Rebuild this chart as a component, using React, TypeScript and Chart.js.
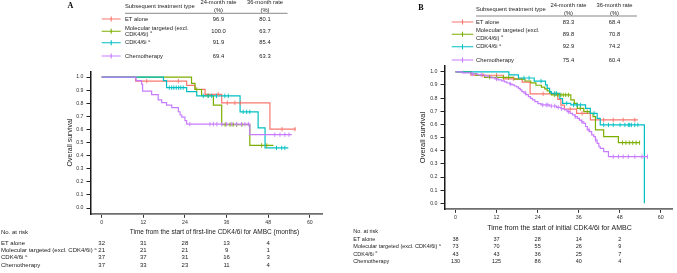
import React, { useEffect, useRef } from "react";
import { Chart, registerables } from "chart.js";

Chart.register(...registerables);

type Pt = [number, number];

// ---------- shared labels ----------
const GROUPS = ["ET alone", "Molecular targeted (excl. CDK4/6i)", "CDK4/6i", "Chemotherapy"];
const LEGEND_LABELS = [["ET alone"], ["Molecular targeted (excl.", "CDK4/6i)"], ["CDK4/6i"], ["Chemotherapy"]];
const SUPERSCRIPT = [false, true, true, false];
const COLORS = ["#F8766D", "#7CAE00", "#00BFC4", "#C77CFF"];
const X_TICKS = [0, 12, 24, 36, 48, 60];
const Y_TICKS = [0, 0.1, 0.2, 0.3, 0.4, 0.5, 0.6, 0.7, 0.8, 0.9, 1.0];
const RISK_TIMES = [0, 12, 24, 36, 48];
const HEADER_TYPE = "Subsequent treatment type";
const HEADER_24 = ["24-month rate", "(%)"];
const HEADER_36 = ["36-month rate", "(%)"];
const Y_TITLE = "Overall survival";
const RISK_TITLE = "No. at risk";

// ---------- Panel A data ----------
const A_ET: Pt[] = [[0, 1], [9.8, 0.969], [24.5, 0.937], [26.9, 0.906], [29.8, 0.868], [34.6, 0.803], [48.5, 0.602], [56.0, 0.602]];
const A_MOL: Pt[] = [[0, 1], [25.9, 0.952], [26.9, 0.905], [28.8, 0.857], [32.2, 0.786], [34.6, 0.637], [42.7, 0.478], [49.5, 0.478]];
const A_CDK: Pt[] = [[0, 1], [17.8, 0.973], [18.7, 0.919], [24.5, 0.889], [27.4, 0.856], [39.9, 0.734], [45.1, 0.612], [47.1, 0.459], [53.8, 0.459]];
const A_CHEMO: Pt[] = [[0, 1], [9.9, 0.973], [11.5, 0.946], [11.8, 0.892], [14.4, 0.865], [16.3, 0.826], [17.3, 0.805], [18.7, 0.786], [20.2, 0.767], [22.1, 0.735], [22.6, 0.71], [23.1, 0.694], [24.0, 0.667], [24.5, 0.64], [42.7, 0.56], [54.8, 0.56]];
const A_ET_CENS = [13.0, 22.1, 33.6, 36.2, 38.4, 40.0, 52.0, 55.7];
const A_MOL_CENS = [27.4, 30.7, 35.6, 37.0, 37.9, 38.9, 40.4, 46.1, 47.6];
const A_CDK_CENS = [19.5, 20.2, 20.8, 21.5, 22.2, 22.8, 23.5, 29.3, 30.7, 31.7, 33.1, 35.5, 36.5, 40.8, 41.8, 42.7, 50.4, 51.9, 52.8];
const A_CHEMO_CENS = [25.4, 31.2, 32.2, 33.2, 34.6, 36.0, 37.5, 38.9, 40.3, 41.3, 42.3, 49.9, 51.4, 52.8, 54.0];
const A_RATE_24 = ["96.9", "100.0", "91.9", "69.4"];
const A_RATE_36 = ["80.1", "63.7", "85.4", "63.3"];
const A_RISK_ET = [32, 31, 28, 13, 4];
const A_RISK_MOL = [21, 21, 21, 9, 1];
const A_RISK_CDK = [37, 37, 31, 16, 3];
const A_RISK_CHEMO = [37, 33, 23, 11, 4];
const A_X_TITLE = "Time from the start of first-line CDK4/6i for AMBC (months)";

// ---------- Panel B data ----------
const B_ET: Pt[] = [[0, 1], [4.5, 0.974], [14.0, 0.947], [19.5, 0.921], [21.8, 0.833], [29.9, 0.79], [30.8, 0.747], [31.8, 0.716], [35.4, 0.684], [39.4, 0.634], [53.3, 0.634]];
const B_MOL: Pt[] = [[0, 1], [4.5, 0.986], [6.0, 0.972], [8.5, 0.958], [17.0, 0.944], [20.3, 0.93], [22.0, 0.916], [23.5, 0.898], [25.1, 0.884], [26.1, 0.87], [26.8, 0.855], [27.5, 0.84], [28.0, 0.824], [33.7, 0.786], [34.7, 0.76], [35.6, 0.722], [37.5, 0.697], [39.4, 0.684], [40.2, 0.659], [40.9, 0.558], [43.3, 0.507], [47.6, 0.461], [53.8, 0.461]];
const B_CDK: Pt[] = [[0, 1], [15.6, 0.977], [18.4, 0.953], [23.0, 0.929], [26.3, 0.9], [26.8, 0.874], [27.5, 0.849], [28.0, 0.836], [30.5, 0.797], [31.3, 0.76], [33.7, 0.748], [38.0, 0.722], [39.4, 0.684], [41.4, 0.646], [42.3, 0.596], [55.2, 0]];
const B_CHEMO: Pt[] = [[0, 1], [2.0, 0.992], [4.5, 0.985], [6.5, 0.977], [8.5, 0.969], [9.5, 0.962], [10.5, 0.954], [11.5, 0.946], [12.5, 0.938], [13.5, 0.931], [14.3, 0.923], [15.0, 0.915], [15.8, 0.908], [16.5, 0.9], [17.2, 0.892], [17.8, 0.885], [18.4, 0.874], [18.9, 0.862], [19.4, 0.849], [20.0, 0.838], [20.6, 0.826], [21.3, 0.811], [21.9, 0.798], [22.5, 0.786], [23.2, 0.773], [24.1, 0.758], [25.0, 0.748], [27.5, 0.74], [29.5, 0.73], [30.8, 0.72], [31.8, 0.71], [32.6, 0.697], [33.5, 0.684], [34.2, 0.672], [34.9, 0.659], [35.6, 0.646], [36.2, 0.633], [36.8, 0.62], [37.5, 0.608], [38.0, 0.584], [38.5, 0.558], [39.2, 0.545], [39.8, 0.52], [40.4, 0.507], [40.9, 0.48], [41.4, 0.456], [41.9, 0.43], [42.3, 0.418], [43.3, 0.393], [44.7, 0.355], [56.1, 0.355]];
const B_ET_CENS = [8.0, 12.0, 17.0, 25.6, 28.9, 33.5, 37.0, 43.3, 46.1, 49.0, 52.4];
const B_MOL_CENS = [10.0, 12.0, 14.0, 15.5, 29.0, 29.9, 30.8, 31.5, 32.2, 33.0, 36.5, 38.5, 48.8, 49.8, 50.8, 51.8, 52.8, 53.8];
const B_CDK_CENS = [20.0, 21.5, 25.0, 29.0, 29.5, 32.5, 34.5, 35.5, 36.5, 40.5, 43.3, 44.7, 46.1, 48.1, 49.5, 50.5, 50.9, 51.4, 52.4, 53.3];
const B_CHEMO_CENS = [5.0, 7.5, 12.0, 16.0, 20.5, 25.5, 26.5, 27.0, 28.0, 29.0, 30.0, 31.0, 33.0, 35.0, 37.0, 39.0, 41.0, 46.1, 47.6, 49.0, 50.5, 52.4, 54.5, 56.1];
const B_RATE_24 = ["83.3", "89.8", "92.9", "75.4"];
const B_RATE_36 = ["68.4", "70.8", "74.2", "60.4"];
const B_RISK_ET = [38, 37, 28, 14, 2];
const B_RISK_MOL = [73, 70, 55, 26, 9];
const B_RISK_CDK = [43, 43, 36, 25, 7];
const B_RISK_CHEMO = [130, 125, 86, 40, 4];
const B_X_TITLE = "Time from the start of initial CDK4/6i for AMBC";

const FONT = '"Liberation Sans", Arial, Helvetica, sans-serif';
const SERIF = '"Liberation Serif", "Times New Roman", serif';
Chart.defaults.font.family = FONT;

interface Layout {
  canvasLeft: number; width: number;
  pad: { left: number; right: number; top: number; bottom: number };
  yAxisW: number; xAxisH: number;
  xMin: number; xMax: number; yMin: number; yMax: number;
  tickSize: number;
  letter: { x: number; y: number; size: number };
  table: {
    labelX: number; sampleX0: number; sampleX1: number; col24: number; col36: number;
    headY: number[]; typeY: number; ruleY: number; ruleX0: number; ruleX1: number;
    rowY: number[][]; valY: number[]; size: number;
  };
  yTitle: { x: number; size: number };
  xTitle: { x: number; y: number; size: number };
  risk: { x: number; titleY: number; rowY: number[]; size: number };
}

interface PanelSpec {
  letter: string;
  series: Pt[][];
  censors: number[][];
  rate24: string[];
  rate36: string[];
  risk: number[][];
  xTitle: string;
  layout: Layout;
}

const PANEL_A: PanelSpec = {
  letter: "A",
  series: [A_ET, A_MOL, A_CDK, A_CHEMO],
  censors: [A_ET_CENS, A_MOL_CENS, A_CDK_CENS, A_CHEMO_CENS],
  rate24: A_RATE_24, rate36: A_RATE_36,
  risk: [A_RISK_ET, A_RISK_MOL, A_RISK_CDK, A_RISK_CHEMO],
  xTitle: A_X_TITLE,
  layout: {
    canvasLeft: 0, width: 338,
    pad: { left: 66, right: 15.7, top: 71.8, bottom: 46.7 }, yAxisW: 25, xAxisH: 12,
    xMin: -3.08, xMax: 63.6, yMin: -0.048, yMax: 1.04, tickSize: 5.2,
    letter: { x: 70.5, y: 6, size: 8 },
    table: {
      labelX: 125, sampleX0: 101.7, sampleX1: 120.7, col24: 218.5, col36: 265,
      headY: [2, 10], typeY: 6, ruleY: 13.3, ruleX0: 125, ruleX1: 287.5,
      rowY: [[19], [28.3, 34.3], [42.7], [56]], valY: [19, 31.3, 42.7, 56], size: 5.8,
    },
    yTitle: { x: 70, size: 7 },
    xTitle: { x: 214.5, y: 232.5, size: 6.5 },
    risk: { x: 1, titleY: 232.7, rowY: [243.3, 250.7, 257.7, 265], size: 6 },
  },
};

const PANEL_B: PanelSpec = {
  letter: "B",
  series: [B_ET, B_MOL, B_CDK, B_CHEMO],
  censors: [B_ET_CENS, B_MOL_CENS, B_CDK_CENS, B_CHEMO_CENS],
  rate24: B_RATE_24, rate36: B_RATE_36,
  risk: [B_RISK_ET, B_RISK_MOL, B_RISK_CDK, B_RISK_CHEMO],
  xTitle: B_X_TITLE,
  layout: {
    canvasLeft: 338, width: 339,
    pad: { left: 82, right: 0, top: 65.9, bottom: 51.7 }, yAxisW: 25, xAxisH: 12,
    xMin: -3.07, xMax: 63.3, yMin: -0.0456, yMax: 1.045, tickSize: 5.3,
    letter: { x: 83, y: 8.3, size: 8 },
    table: {
      labelX: 138, sampleX0: 113.7, sampleX1: 135.3, col24: 230.5, col36: 276.5,
      headY: [5, 13.3], typeY: 9.3, ruleY: 16, ruleX0: 138, ruleX1: 299,
      rowY: [[22], [30, 38.3], [46.7], [60]], valY: [22, 34.2, 46.7, 60], size: 5.8,
    },
    yTitle: { x: 85.3, size: 7.5 },
    xTitle: { x: 221.5, y: 227.7, size: 7 },
    risk: { x: 15.3, titleY: 231.7, rowY: [239.3, 246.7, 254, 261.7], size: 5.5 },
  },
};

function survivalAt(pts: Pt[], t: number): number {
  let s = pts[0][1];
  for (const [x, y] of pts) if (x <= t) s = y;
  return s;
}

function txt(ctx: CanvasRenderingContext2D, s: string, x: number, y: number, size: number,
  align: CanvasTextAlign = "left", weight = "normal", color = "#222", family = FONT): number {
  ctx.font = `${weight} ${size}px ${family}`;
  ctx.textAlign = align;
  ctx.textBaseline = "middle";
  ctx.fillStyle = color;
  ctx.fillText(s, x, y);
  return ctx.measureText(s).width;
}

function supA(ctx: CanvasRenderingContext2D, x: number, y: number, size: number) {
  txt(ctx, "a", x, y - size * 0.35, size * 0.6);
}

function makePlugin(p: PanelSpec) {
  return {
    id: "kmExtras",
    afterDraw(chart: any) {
      const ctx: CanvasRenderingContext2D = chart.ctx;
      const L = p.layout;
      const T = L.table;
      ctx.save();
      txt(ctx, p.letter, L.letter.x, L.letter.y, L.letter.size, "center", "bold", "#000", SERIF);
      txt(ctx, HEADER_TYPE, T.labelX, T.typeY, T.size);
      HEADER_24.forEach((s, i) => txt(ctx, s, T.col24, T.headY[i], T.size, "center"));
      HEADER_36.forEach((s, i) => txt(ctx, s, T.col36, T.headY[i], T.size, "center"));
      ctx.strokeStyle = "#555";
      ctx.lineWidth = 0.7;
      ctx.beginPath();
      ctx.moveTo(T.ruleX0, T.ruleY);
      ctx.lineTo(T.ruleX1, T.ruleY);
      ctx.stroke();
      GROUPS.forEach((_, gi) => {
        const vy = T.valY[gi];
        ctx.strokeStyle = COLORS[gi];
        ctx.lineWidth = 1.1;
        ctx.beginPath();
        ctx.moveTo(T.sampleX0, vy);
        ctx.lineTo(T.sampleX1, vy);
        const mx = (T.sampleX0 + T.sampleX1) / 2;
        ctx.moveTo(mx, vy - 2.5);
        ctx.lineTo(mx, vy + 2.5);
        ctx.stroke();
        const lines = LEGEND_LABELS[gi];
        lines.forEach((s, li) => {
          const w = txt(ctx, s, T.labelX, T.rowY[gi][li], T.size);
          if (SUPERSCRIPT[gi] && li === lines.length - 1) supA(ctx, T.labelX + w + T.size * 0.3, T.rowY[gi][li], T.size);
        });
        txt(ctx, p.rate24[gi], T.col24, vy, T.size, "center");
        txt(ctx, p.rate36[gi], T.col36, vy, T.size, "center");
      });
      // axis titles
      const yMid = chart.scales.y.getPixelForValue(0.5);
      ctx.save();
      ctx.translate(L.yTitle.x, yMid);
      ctx.rotate(-Math.PI / 2);
      txt(ctx, Y_TITLE, 0, 0, L.yTitle.size, "center");
      ctx.restore();
      txt(ctx, p.xTitle, L.xTitle.x, L.xTitle.y, L.xTitle.size, "center");
      // risk table
      const R = L.risk;
      txt(ctx, RISK_TITLE, R.x, R.titleY, R.size);
      const xs = chart.scales.x;
      GROUPS.forEach((g, gi) => {
        const w = txt(ctx, g, R.x, R.rowY[gi], R.size);
        if (SUPERSCRIPT[gi]) supA(ctx, R.x + w + R.size * 0.3, R.rowY[gi], R.size);
        p.risk[gi].forEach((n, k) => {
          txt(ctx, String(n), xs.getPixelForValue(RISK_TIMES[k]), R.rowY[gi], R.size, "center");
        });
      });
      ctx.restore();
    },
  };
}

function Panel({ spec }: { spec: PanelSpec }) {
  const ref = useRef<HTMLCanvasElement>(null);
  useEffect(() => {
    const L = spec.layout;
    const datasets: any[] = [];
    // draw order: earlier datasets are painted on top
    for (let gi = spec.series.length - 1; gi >= 0; gi--) {
      const pts = spec.series[gi];
      datasets.push({
        data: spec.censors[gi].map((t) => ({ x: t, y: survivalAt(pts, t) })),
        showLine: false,
        pointStyle: "line",
        pointRotation: 90,
        pointRadius: 2.2,
        pointBorderWidth: 0.9,
        pointBorderColor: COLORS[gi],
        pointBackgroundColor: COLORS[gi],
        borderColor: COLORS[gi],
      });
    }
    for (let gi = spec.series.length - 1; gi >= 0; gi--) {
      datasets.push({
        data: spec.series[gi].map(([x, y]) => ({ x, y })),
        stepped: true,
        borderColor: COLORS[gi],
        borderWidth: 1.2,
        pointRadius: 0,
        fill: false,
      });
    }
    const tickFont = { size: L.tickSize, family: FONT };
    const chart = new Chart(ref.current as HTMLCanvasElement, {
      type: "line",
      data: { datasets },
      options: {
        animation: false,
        responsive: false,
        maintainAspectRatio: false,
        devicePixelRatio: 1,
        events: [],
        layout: { padding: L.pad },
        plugins: { legend: { display: false }, tooltip: { enabled: false }, title: { display: false } },
        scales: {
          x: {
            type: "linear",
            min: L.xMin,
            max: L.xMax,
            afterBuildTicks: (s: any) => { s.ticks = X_TICKS.map((v) => ({ value: v })); },
            afterFit: (s: any) => { s.height = L.xAxisH; },
            ticks: { font: tickFont, color: "#333", padding: 2, autoSkip: false, maxRotation: 0, callback: (v: any) => String(v) },
            grid: { display: true, drawOnChartArea: false, drawTicks: true, tickLength: 3.5, tickColor: "#333", tickWidth: 1 },
            border: { display: true, color: "#6e6e6e", width: 1.8 },
          },
          y: {
            type: "linear",
            min: L.yMin,
            max: L.yMax,
            afterBuildTicks: (s: any) => { s.ticks = Y_TICKS.map((v) => ({ value: v })); },
            afterFit: (s: any) => { s.width = L.yAxisW; },
            ticks: { font: tickFont, color: "#333", padding: 3, autoSkip: false, callback: (v: any) => Number(v).toFixed(1) },
            grid: { display: true, drawOnChartArea: false, drawTicks: true, tickLength: 4.5, tickColor: "#222", tickWidth: 1 },
            border: { display: true, color: "#1a1a1a", width: 1.5 },
          },
        },
      } as any,
      plugins: [makePlugin(spec)],
    });
    return () => chart.destroy();
  }, [spec]);
  const L = spec.layout;
  return (
    <canvas
      ref={ref}
      width={L.width}
      height={273}
      style={{ position: "absolute", left: L.canvasLeft, top: 0, width: L.width, height: 273 }}
    />
  );
}

export default function App() {
  return (
    <div style={{ position: "fixed", left: 0, top: 0, width: 677, height: 273, background: "#fff", overflow: "hidden" }}>
      <Panel spec={PANEL_A} />
      <Panel spec={PANEL_B} />
    </div>
  );
}
